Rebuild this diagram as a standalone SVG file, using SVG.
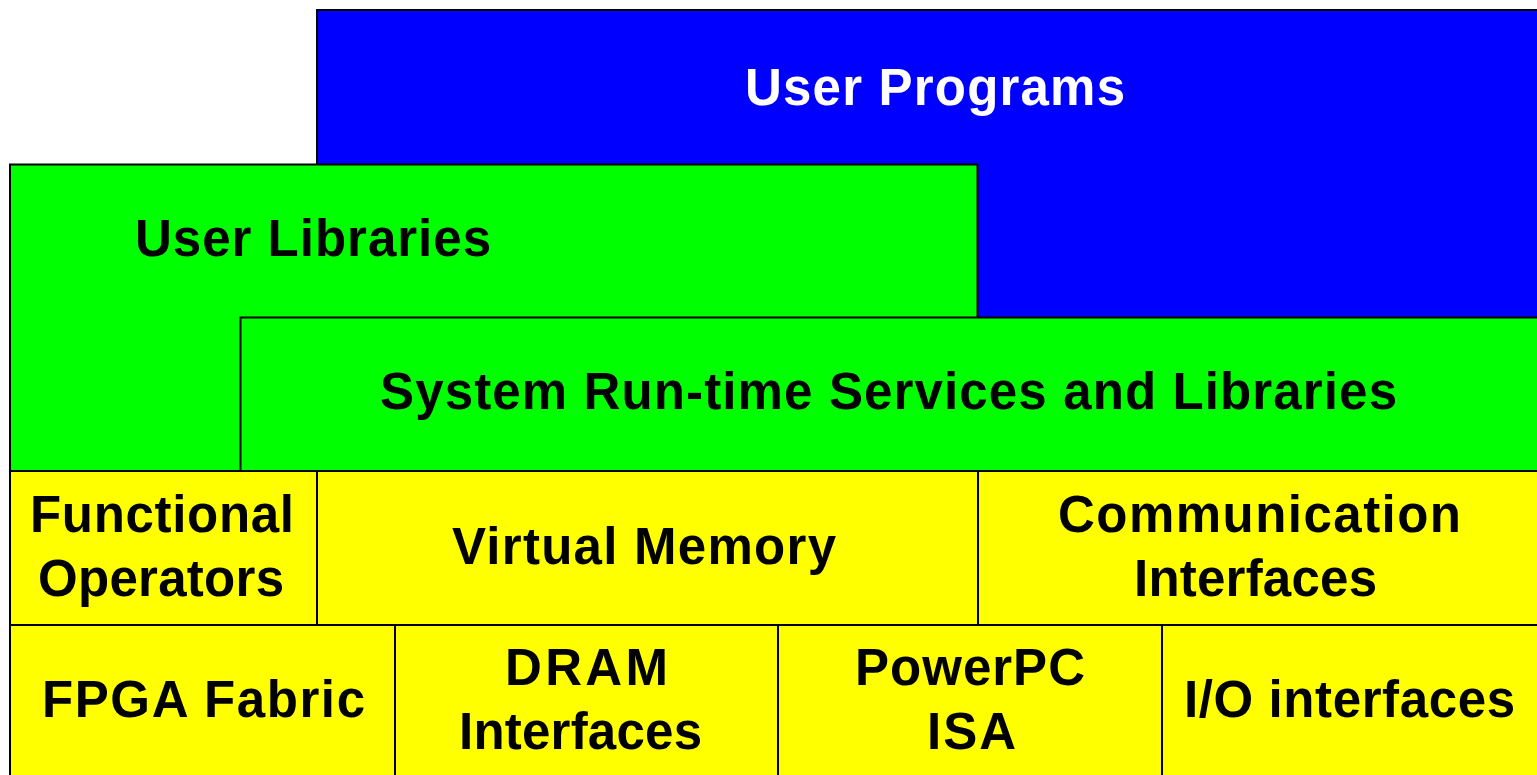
<svg xmlns="http://www.w3.org/2000/svg" width="1537" height="775" viewBox="0 0 1537 775">
<style>
rect{stroke:#000;stroke-width:2}
.b{fill:#0000ff}.g{fill:#00ff00}.y{fill:#ffff00}
text{font-family:"Liberation Sans",Arial,sans-serif;font-weight:bold;font-size:51px;fill:#000}
.w{fill:#fff}
</style>
<rect width="1537" height="775" fill="#fff" style="stroke:none"/>
<g id="user-programs"><rect class="b" x="317" y="10" width="1225" height="320"/><text class="w" x="745" y="105" textLength="380" lengthAdjust="spacing">User Programs</text></g>
<g id="user-libraries"><rect class="g" x="10" y="164.5" width="967.5" height="320"/><text x="135" y="256" textLength="356" lengthAdjust="spacing">User Libraries</text></g>
<g id="system-runtime"><rect class="g" x="240.5" y="317.5" width="1300" height="160"/><text x="380" y="409" textLength="1017" lengthAdjust="spacing">System Run-time Services and Libraries</text></g>
<g id="functional-operators"><rect class="y" x="10" y="471" width="307" height="160"/><text x="30" y="532" textLength="264" lengthAdjust="spacing">Functional</text><text x="38" y="596" textLength="246" lengthAdjust="spacing">Operators</text></g>
<g id="virtual-memory"><rect class="y" x="317" y="471" width="661" height="160"/><text x="452" y="564" textLength="384" lengthAdjust="spacing">Virtual Memory</text></g>
<g id="communication-interfaces"><rect class="y" x="978" y="471" width="565" height="160"/><text x="1058" y="532" textLength="403" lengthAdjust="spacing">Communication</text><text x="1134" y="596" textLength="243" lengthAdjust="spacing">Interfaces</text></g>
<g id="fpga-fabric"><rect class="y" x="10" y="625" width="385" height="160"/><text x="42" y="717" textLength="323" lengthAdjust="spacing">FPGA Fabric</text></g>
<g id="dram-interfaces"><rect class="y" x="395" y="625" width="383" height="160"/><text x="505" y="685" textLength="163" lengthAdjust="spacing">DRAM</text><text x="459" y="749" textLength="243" lengthAdjust="spacing">Interfaces</text></g>
<g id="powerpc-isa"><rect class="y" x="778" y="625" width="384" height="160"/><text x="855" y="685" textLength="230" lengthAdjust="spacing">PowerPC</text><text x="927" y="749" textLength="89" lengthAdjust="spacing">ISA</text></g>
<g id="io-interfaces"><rect class="y" x="1162" y="625" width="380" height="160"/><text x="1184" y="717" textLength="331" lengthAdjust="spacing">I/O interfaces</text></g>
<g id="connectors"></g>
</svg>
